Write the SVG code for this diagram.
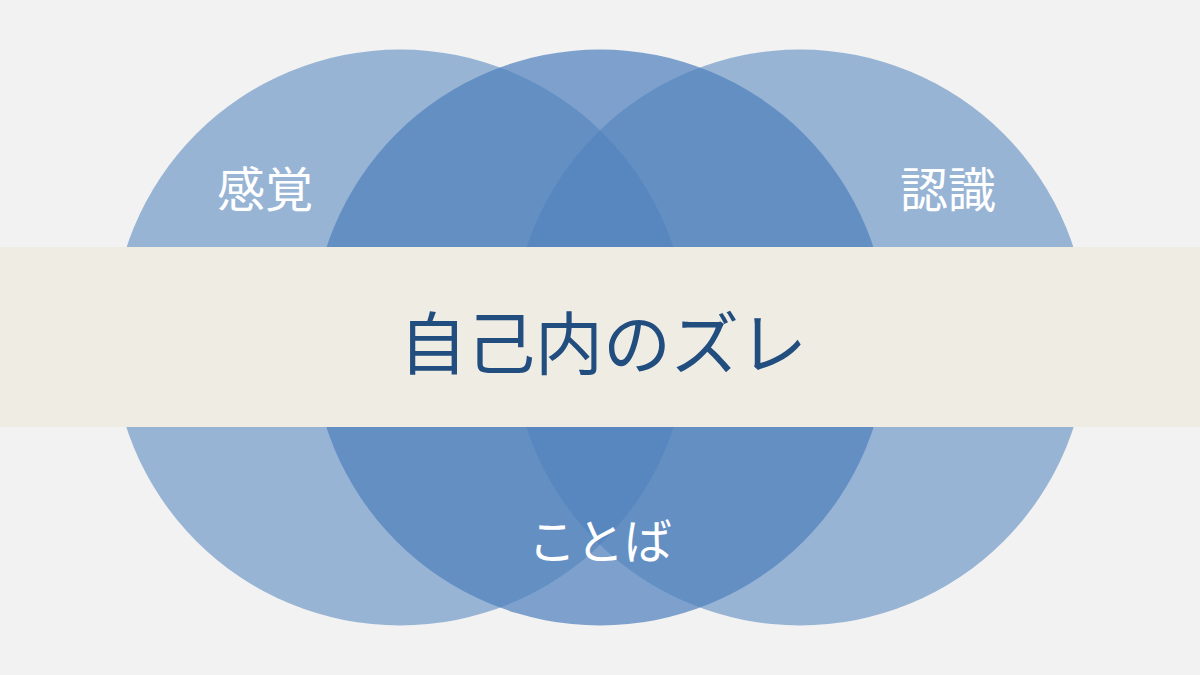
<svg xmlns="http://www.w3.org/2000/svg" width="1200" height="675" viewBox="0 0 1200 675">
  <style>
    .side { fill: #4f81bd; fill-opacity: 0.55; }
    .mid { fill: #4f81bd; fill-opacity: 0.72; }
    .lbl { font-family: "Noto Sans CJK JP", "Noto Sans", sans-serif; font-size: 48px; fill: #ffffff; text-anchor: middle; }
    .title { font-family: "Noto Sans CJK JP", "Noto Sans", sans-serif; font-size: 68px; fill: #224d7f; text-anchor: middle; }
  </style>
  <rect x="0" y="0" width="1200" height="675" fill="#f2f2f2"/>
  <g id="circle-left"><circle class="side" cx="400" cy="337.5" r="288"/></g>
  <g id="circle-right"><circle class="side" cx="800" cy="337.5" r="288"/></g>
  <g id="circle-middle"><circle class="mid" cx="600" cy="337.5" r="288"/></g>
  <g id="band">
    <rect x="0" y="247" width="1200" height="180" fill="#eeece3"/>
    <text class="title" x="603" y="369">自己内のズレ</text>
  </g>
  <g id="label-kankaku"><text class="lbl" x="265" y="207">感覚</text></g>
  <g id="label-ninshiki"><text class="lbl" x="948" y="207">認識</text></g>
  <g id="label-kotoba"><text class="lbl" x="600" y="559">ことば</text></g>
  <g id="connectors"/>
</svg>
